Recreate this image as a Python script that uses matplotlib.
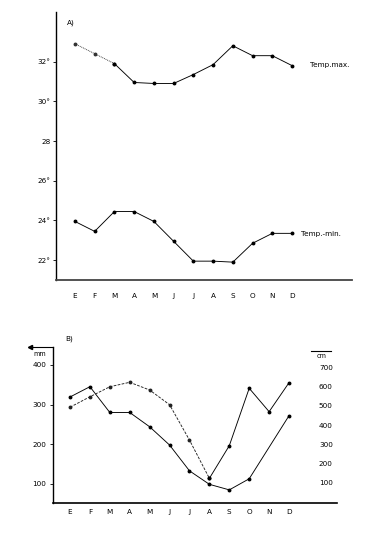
import matplotlib
matplotlib.use("Agg")
import matplotlib.pyplot as plt

# month initials (Spanish)
months = ["E", "F", "M", "A", "M", "J", "J", "A", "S", "O", "N", "D"]

# A) temperatures, degrees
temp_max = [32.9, 32.4, 31.9, 30.95, 30.9, 30.9, 31.35, 31.85, 32.8, 32.3, 32.3, 31.8]
temp_min = [23.95, 23.45, 24.45, 24.45, 23.95, 22.95, 21.95, 21.95, 21.9, 22.85, 23.35, 23.35]
temp_ticks = [22, 24, 26, 28, 30, 32]
temp_labels = ["22°", "24°", "26°", "28", "30°", "32°"]

# B) rainfall in mm (no point marked for N) and level in cm
rain_idx = [0, 1, 2, 3, 4, 5, 6, 7, 8, 9, 11]
rain_mm = [319, 345, 280, 280, 244, 198, 133, 99, 85, 113, 272]
level_cm = [492, 546, 598, 621, 581, 505, 322, 124, 293, 590, 469, 619]
mm_ticks = [100, 200, 300, 400]
cm_ticks = [100, 200, 300, 400, 500, 600, 700]

fs = 5.2
x = list(range(12))
lw = 0.65
ms = 1.8

fig = plt.figure(figsize=(3.88, 5.36), dpi=100)

# ---- panel A
ax = fig.add_axes([0.1433, 0.4776, 0.764, 0.5])
ax.plot(x[:3], temp_max[:3], color="#333333", lw=lw, ls=(0, (1, 1)),
        marker="o", ms=ms)
ax.plot(x[2:], temp_max[2:], color="black", lw=lw, marker="o", ms=ms)
ax.plot(x, temp_min, color="black", lw=lw, marker="o", ms=ms)
ax.set_xlim(-0.98, 14.04)
ax.set_ylim(21.0, 34.5)
ax.set_yticks(temp_ticks)
ax.set_yticklabels(temp_labels, fontsize=fs)
ax.set_xticks(x)
ax.set_xticklabels(months, fontsize=fs)
ax.tick_params(axis="x", length=0, pad=9.5)
ax.tick_params(axis="y", length=2.5, width=0.6, pad=1)
for s in ["top", "right"]:
    ax.spines[s].set_visible(False)
ax.spines["left"].set_linewidth(1.0)
ax.spines["bottom"].set_linewidth(1.3)
ax.spines["bottom"].set_color("#444444")
ax.text(11.9, 31.85, "Temp.max.", fontsize=fs, va="center", ha="left")
ax.text(11.45, 23.33, "Temp.-min.", fontsize=fs, va="center", ha="left")
fig.text(67 / 388, 1 - 23 / 536, "A)", fontsize=fs, ha="left", va="center")

# ---- panel B
bx = fig.add_axes([0.1366, 0.0616, 0.732, 0.291])
bx.plot(rain_idx, rain_mm, color="black", lw=lw, marker="o", ms=ms)
bx.set_xlim(-0.854, 13.41)
bx.set_ylim(52, 445)
bx.set_yticks(mm_ticks)
bx.set_yticklabels([str(v) for v in mm_ticks], fontsize=fs)
bx.set_xticks(x)
bx.set_xticklabels(months, fontsize=fs)
bx.tick_params(axis="x", length=0, pad=4.5)
bx.tick_params(axis="y", length=2.5, width=0.6, pad=2.5)
for s in ["top", "right"]:
    bx.spines[s].set_visible(False)
bx.spines["left"].set_linewidth(1.0)
bx.spines["bottom"].set_linewidth(1.2)

b2 = bx.twinx()
b2.plot(x[:8], level_cm[:8], color="#222222", lw=lw, ls=(0, (3, 1.5)),
        marker="o", ms=ms)
b2.plot(x[7:], level_cm[7:], color="black", lw=lw, marker="o", ms=ms)
b2.set_ylim(-3.5, 803.6)
b2.set_yticks(cm_ticks)
b2.set_yticklabels([str(v) for v in cm_ticks], fontsize=fs)
b2.tick_params(axis="y", length=0, pad=-13)
for s in b2.spines.values():
    s.set_visible(False)

fig.text(65 / 388, 1 - 339 / 536, "B)", fontsize=fs, ha="left", va="center")
fig.add_artist(plt.Line2D([30 / 388, 53 / 388], [1 - 347 / 536] * 2,
                          color="black", lw=0.8))
fig.add_artist(plt.Line2D([30 / 388], [1 - 347 / 536], marker="<", ms=3,
                          color="black", lw=0))
fig.text(40 / 388, 1 - 354 / 536, "mm", fontsize=fs - 0.5, ha="center", va="center")
fig.add_artist(plt.Line2D([311 / 388, 331 / 388], [1 - 351 / 536] * 2,
                          color="black", lw=0.8))
fig.text(322 / 388, 1 - 356 / 536, "cm", fontsize=fs - 0.5, ha="center", va="center")

fig.savefig("out.png", dpi=100, facecolor="white")
